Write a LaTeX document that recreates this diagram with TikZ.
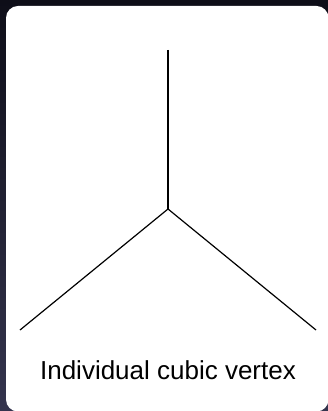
\documentclass[tikz,border=0pt]{standalone}
\usepackage{fontspec}
\setmainfont{Liberation Sans}
\definecolor{bgtop}{HTML}{0E0E18}
\definecolor{bgbot}{HTML}{34344E}
\begin{document}
\begin{tikzpicture}[x=1pt,y=-1pt,
  edge/.style={line width=1.2pt,black},
  lbl/.style={font=\fontsize{26}{30}\selectfont,anchor=base,inner sep=0pt}]
\useasboundingbox (0,0) rectangle (328,411);
\shade[top color=bgtop,bottom color=bgbot] (0,0) rectangle (328,411);
\fill[white,rounded corners=12pt] (6,6) rectangle (328.5,411.5);
\coordinate (top) at (168,50);
\coordinate (c) at (168,209);
\coordinate (l) at (20,330);
\coordinate (r) at (316,330);
\draw[edge] (top) -- (c);
\draw[edge] (c) -- (l);
\draw[edge] (c) -- (r);
\node[lbl] (t) at (168,379) {Individual cubic vertex};
\end{tikzpicture}
\end{document}
